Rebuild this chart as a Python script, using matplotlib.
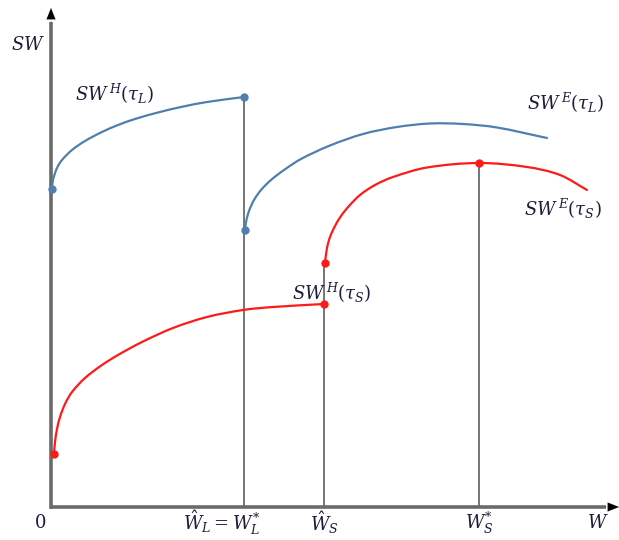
import matplotlib
matplotlib.use("Agg")
import math
import matplotlib.pyplot as plt
from matplotlib.path import Path
from matplotlib.patches import PathPatch

plt.rcParams['mathtext.fontset'] = 'dejavuserif'

# Curves (W, SW)
w_H_L = [1, 2, 6, 11, 21, 34, 51, 67, 84, 105, 130, 156, 193]
sw_H_L = [318, 327, 339, 347, 357, 366, 375, 382, 388, 394, 400, 405, 410]

w_E_L = [194, 195, 198, 203, 210, 220, 233, 250, 279, 312, 346, 379, 412, 446, 496]
sw_E_L = [277, 285, 296, 307, 317, 327, 337, 348, 361.5, 373, 380, 383.5, 383, 379.5, 369]

w_E_S = [274, 276, 279, 284, 290, 298, 309, 324, 342, 376, 428, 476, 509, 536]
sw_E_S = [244, 259, 270, 281, 291, 301, 312, 322, 330, 339.5, 344, 340, 332, 317]

w_H_S = [3, 4, 6, 9, 14, 21, 34, 51, 67, 91, 122, 156, 192, 222, 273]
sw_H_S = [53, 65, 78, 90, 103, 115, 129, 142, 152, 165, 179, 190, 197, 200, 203]

# Key W positions and tick labels
key_w = [193, 273, 428]
tick_labels = [r"$\hat{W}_L = W_L^{*}$", r"$\hat{W}_S$", r"$W_S^{*}$"]

BLUE = '#4f7fae'
RED = '#ff1a1a'
TXT = '#1c1c3c'


def smooth_path(xs, ys):
    """Chord-length Catmull-Rom curve through the read points (cubic Beziers)."""
    pts = list(zip(xs, ys))
    n = len(pts)
    d = [math.hypot(pts[i + 1][0] - pts[i][0], pts[i + 1][1] - pts[i][1])
         for i in range(n - 1)]
    m = []
    for i in range(n):
        if i == 0:
            a, b, L = pts[0], pts[1], d[0]
        elif i == n - 1:
            a, b, L = pts[n - 2], pts[n - 1], d[n - 2]
        else:
            a, b, L = pts[i - 1], pts[i + 1], d[i - 1] + d[i]
        m.append(((b[0] - a[0]) / L, (b[1] - a[1]) / L))
    verts = [pts[0]]
    codes = [Path.MOVETO]
    for i in range(n - 1):
        p1, p2 = pts[i], pts[i + 1]
        c1 = (p1[0] + m[i][0] * d[i] / 3, p1[1] + m[i][1] * d[i] / 3)
        c2 = (p2[0] - m[i + 1][0] * d[i] / 3, p2[1] - m[i + 1][1] * d[i] / 3)
        verts += [c1, c2, p2]
        codes += [Path.CURVE4] * 3
    return Path(verts, codes)


fig = plt.figure(figsize=(6.19, 5.40), dpi=100)
ax = fig.add_axes([0, 0, 1, 1])
ax.set_xlim(-51, 568)
ax.set_ylim(-33, 507)
ax.axis('off')

# vertical guide lines
ax.vlines(key_w[0], 0, sw_H_L[-1], color='#505050', lw=1.1, zorder=1)
ax.vlines(key_w[1], 0, sw_E_S[0], color='#505050', lw=1.1, zorder=1)
ax.vlines(key_w[2], 0, max(sw_E_S), color='#505050', lw=1.1, zorder=1)

# axes with arrows
ax.plot([0, 0], [-1.5, 485], color='#6a6a6a', lw=2.6, zorder=2, solid_capstyle='butt')
ax.plot([-1.5, 555], [0, 0], color='#6a6a6a', lw=2.6, zorder=2, solid_capstyle='butt')
ax.annotate('', xy=(0, 499), xytext=(0, 485),
            arrowprops=dict(arrowstyle='-|>,head_length=0.8,head_width=0.32',
                            color='black', lw=0.1, shrinkA=0, shrinkB=0), zorder=3)
ax.annotate('', xy=(568, 0), xytext=(554, 0),
            arrowprops=dict(arrowstyle='-|>,head_length=0.8,head_width=0.32',
                            color='black', lw=0.1, shrinkA=0, shrinkB=0), zorder=3)

# curves
for xs, ys, c in [(w_H_L, sw_H_L, BLUE), (w_E_L, sw_E_L, BLUE),
                  (w_E_S, sw_E_S, RED), (w_H_S, sw_H_S, RED)]:
    ax.add_patch(PathPatch(smooth_path(xs, ys), facecolor='none', edgecolor=c,
                           lw=1.6, zorder=4, capstyle='round'))

# dots
ax.plot([w_H_L[0], w_H_L[-1], w_E_L[0]], [sw_H_L[0], sw_H_L[-1], sw_E_L[0]],
        'o', color=BLUE, ms=5, zorder=5)
peak_i = sw_E_S.index(max(sw_E_S))
ax.plot([w_H_S[0], w_H_S[-1], w_E_S[0], w_E_S[peak_i]],
        [sw_H_S[0], sw_H_S[-1], sw_E_S[0], sw_E_S[peak_i]],
        'o', color=RED, ms=5, zorder=5)

fs = 13
ax.text(-23, 462, r"$SW$", fontsize=fs, color=TXT, ha='center', va='center')
ax.text(24, 413, r"$SW^{\,H}(\tau_L)$", fontsize=fs, color=TXT, ha='left', va='center')
ax.text(476, 404, r"$SW^{\,E}(\tau_L)$", fontsize=fs, color=TXT, ha='left', va='center')
ax.text(473, 298, r"$SW^{\,E}(\tau_S)$", fontsize=fs, color=TXT, ha='left', va='center')
ax.text(241, 214, r"$SW^{\,H}(\tau_S)$", fontsize=fs, color=TXT, ha='left', va='center')

ax.text(-11, -16, r"$0$", fontsize=fs, color=TXT, ha='center', va='center')
ax.text(171, -16, tick_labels[0], fontsize=fs, color=TXT, ha='center', va='center')
ax.text(key_w[1], -16, tick_labels[1], fontsize=fs, color=TXT, ha='center', va='center')
ax.text(key_w[2], -16, tick_labels[2], fontsize=fs, color=TXT, ha='center', va='center')
ax.text(547, -16, r"$W$", fontsize=fs, color=TXT, ha='center', va='center')

fig.savefig('out.png', dpi=100)
